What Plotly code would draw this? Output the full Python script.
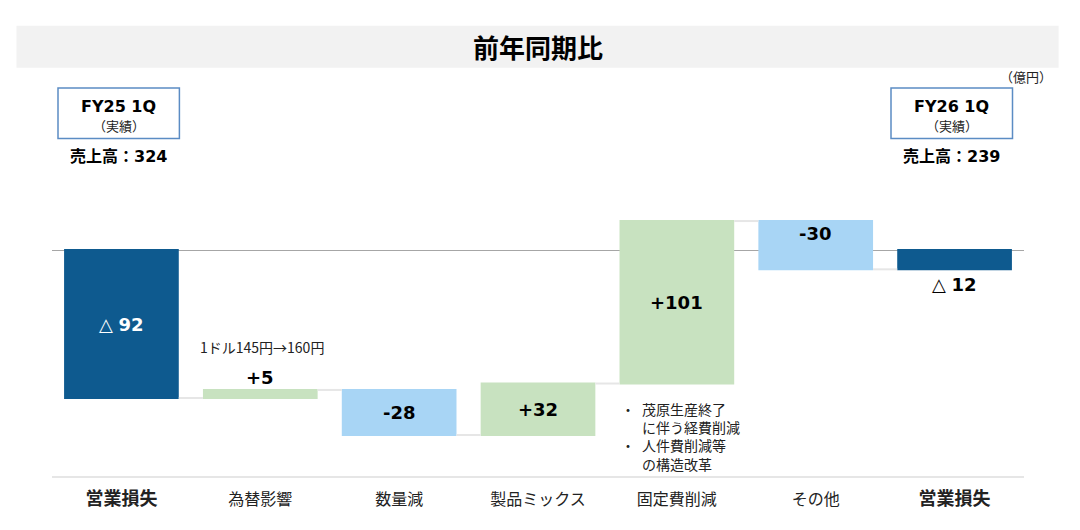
import plotly.graph_objects as go

# data (億円)
categories = ["営業損失", "為替影響", "数量減", "製品ミックス", "固定費削減", "その他", "営業損失"]
measures = ["absolute", "relative", "relative", "relative", "relative", "relative", "total"]
values = [-92, 5, -28, 32, 101, -30, 0]
value_labels = ["△ <b>92</b>", "<b>+5</b>", "<b>-28</b>", "<b>+32</b>", "<b>+101</b>", "<b>-30</b>", "△ <b>12</b>"]
period_labels = ["FY25 1Q", "FY26 1Q"]
sales_labels = ["売上高：324", "売上高：239"]
fx_note = "1ドル145円→160円"
cost_notes = [["茂原生産終了", "に伴う経費削減"], ["人件費削減等", "の構造改革"]]

# page body has an 8px margin, so the figure is drawn 8px smaller
OFF = 8
W, H = 1080 - OFF, 530 - OFF
L, R, T, B = 52 - OFF, 56, 80 - OFF, 54
JP = "Noto Sans CJK JP"
LAT = "DejaVu Sans, Noto Sans CJK JP"

DARK = "#0e5a8f"
GREEN = "#c8e2c0"
LBLUE = "#a8d5f5"


def px_x(x):
    return (x - OFF - L) / (W - L - R)


def px_y(y):
    return (H - B - (y - OFF)) / (H - T - B)


# running totals to place labels on the bars
bottoms, tops = [], []
run = 0
for m, v in zip(measures, values):
    if m == "absolute":
        lo, hi = sorted([0, v])
        run = v
    elif m == "total":
        lo, hi = sorted([0, run])
    else:
        lo, hi = sorted([run, run + v])
        run += v
    bottoms.append(lo)
    tops.append(hi)

xs = list(range(len(categories)))

fig = go.Figure(go.Waterfall(
    x=xs, y=values, measure=measures, width=0.826,
    increasing=dict(marker=dict(color=GREEN)),
    decreasing=dict(marker=dict(color=LBLUE)),
    totals=dict(marker=dict(color=DARK)),
    connector=dict(line=dict(color="#e6e6e6", width=2)),
    hoverinfo="skip",
))

# value labels
place = ["mid", "above", "mid", "mid", "mid", "top", "below"]
for i, txt in enumerate(value_labels):
    col = "white" if place[i] == "mid" and measures[i] != "relative" else "black"
    if place[i] == "mid":
        y, ya, ys = (tops[i] + bottoms[i]) / 2, "middle", 0
    elif place[i] == "above":
        y, ya, ys = tops[i], "bottom", 0
    elif place[i] == "top":
        y, ya, ys = tops[i], "top", 0
    else:
        y, ya, ys = bottoms[i], "top", -3
    fig.add_annotation(x=xs[i], y=y, text=txt, showarrow=False, xanchor="center", yanchor=ya,
                       yshift=ys, font=dict(family=LAT, size=18, color=col))

# notes
fig.add_annotation(x=xs[1], y=tops[1], text=fx_note, showarrow=False, xanchor="center",
                   yshift=43, xshift=2, font=dict(family=JP, size=14, color="#222"))
note_lines = []
for first, second in cost_notes:
    note_lines.append("・\u2002" + first)
    note_lines.append("\u3000\u2002" + second)
fig.add_annotation(x=xs[4], y=bottoms[4], text="<br>".join(note_lines), showarrow=False,
                   xanchor="left", yanchor="top", align="left", xshift=-57.5, yshift=-13,
                   font=dict(family=JP, size=14, color="#222"))

# header bar and title
fig.add_shape(type="rect", xref="paper", yref="paper", x0=px_x(16.5), x1=px_x(1058.6),
              y0=px_y(67.7), y1=px_y(25.7), fillcolor="#f2f2f2", line=dict(width=0), layer="below")
fig.add_annotation(xref="paper", yref="paper", x=px_x(537.7), y=px_y(46.7), text="<b>前年同期比</b>",
                   xanchor="center", yanchor="middle", showarrow=False,
                   font=dict(family=JP, size=26, color="black"))
fig.add_annotation(xref="paper", yref="paper", x=px_x(1054), y=px_y(76.7), xanchor="right",
                   yanchor="middle", text="（億円）", showarrow=False,
                   font=dict(family=JP, size=13, color="#222"))

# period boxes
boxes = [(58, 179.4), (891, 1012.5)]
for (x0, x1), per, sales in zip(boxes, period_labels, sales_labels):
    cx = (x0 + x1) / 2
    fig.add_shape(type="rect", xref="paper", yref="paper", x0=px_x(x0), x1=px_x(x1),
                  y0=px_y(138.5), y1=px_y(88), line=dict(color="#5b8cc4", width=1.5))
    for txt, yy, fam, sz in [("<b>" + per + "</b>", 106, LAT, 16),
                             ("（実績）", 126, JP, 13),
                             ("<b>" + sales + "</b>", 156, LAT, 16)]:
        fig.add_annotation(xref="paper", yref="paper", x=px_x(cx), y=px_y(yy), text=txt,
                           xanchor="center", yanchor="middle", showarrow=False,
                           font=dict(family=fam, size=sz, color="black" if sz > 13 else "#222"))

ticktext = []
for i, c in enumerate(categories):
    if measures[i] == "relative":
        ticktext.append(c)
    else:
        ticktext.append("<span style='font-size:18px'><b>" + c + "</b></span>")

fig.update_layout(
    width=W, height=H, margin=dict(l=L, r=R, t=T, b=B),
    paper_bgcolor="white", plot_bgcolor="white", showlegend=False,
    font=dict(family=JP, size=16, color="#222"),
    xaxis=dict(range=[-0.5, 6.5], tickvals=xs, ticktext=ticktext, showgrid=False,
               showline=True, linecolor="#e6e6e6", linewidth=2, ticks="outside",
               ticklen=8, tickcolor="rgba(0,0,0,0)", fixedrange=True),
    yaxis=dict(range=[-140.5, 105.7], showgrid=False, showticklabels=False,
               zeroline=True, zerolinecolor="#a6a6a6", zerolinewidth=1, fixedrange=True),
    hovermode=False,
)

fig.write_html("out.html")
